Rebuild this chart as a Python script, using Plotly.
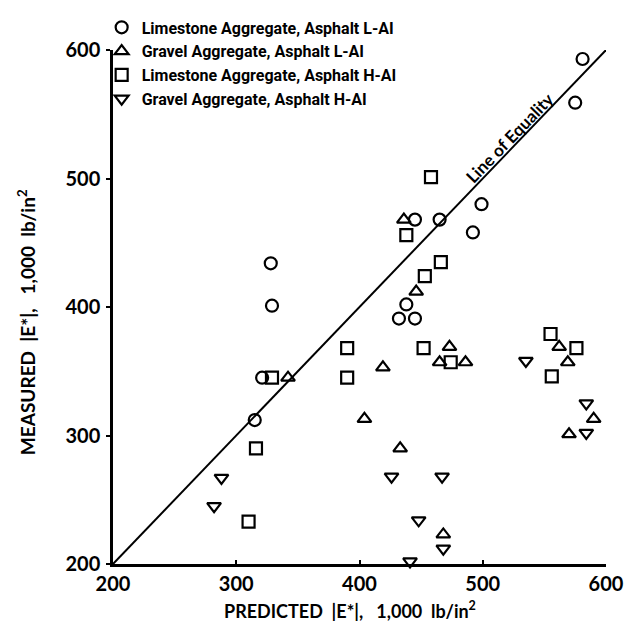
import plotly.graph_objects as go

# Predicted vs measured dynamic modulus |E*| (1,000 lb/in^2)
lime_lai_pred = [581, 575, 499, 492, 465, 445, 438, 432, 445, 315, 321, 329, 328]
lime_lai_meas = [593, 559, 480, 458, 468, 468, 402, 391, 391, 312, 345, 401, 434]

grav_lai_pred = [436, 446, 404, 433, 468, 419, 473, 465, 486, 562, 569, 590, 570, 342]
grav_lai_meas = [468, 412, 313, 290, 223, 353, 369, 357, 357, 369, 357, 313, 301, 345]

lime_hai_pred = [458, 438, 466, 453, 390, 390, 452, 474, 555, 576, 556, 316, 310, 329]
lime_hai_meas = [501, 456, 435, 424, 368, 345, 368, 357, 379, 368, 346, 290, 233, 345]

grav_hai_pred = [535, 584, 584, 426, 467, 448, 468, 441, 288, 282]
grav_hai_meas = [358, 325, 302, 268, 268, 234, 212, 202, 267, 245]

series_names = [
    "Limestone Aggregate, Asphalt L-AI",
    "Gravel Aggregate, Asphalt L-AI",
    "Limestone Aggregate, Asphalt H-AI",
    "Gravel Aggregate, Asphalt H-AI",
]
series_symbols = ["circle-open", "triangle-up-open", "square-open", "triangle-down-open"]

equality = [200, 605]
tick_vals = [200, 300, 400, 500, 600]

FONT = "Lato"
fig = go.Figure()

# line of equality, drawn first so the markers sit on top
fig.add_trace(go.Scatter(
    x=equality, y=equality, mode="lines",
    line=dict(color="black", width=2), showlegend=False,
    hoverinfo="skip", cliponaxis=False,
))

data = [
    (lime_lai_pred, lime_lai_meas),
    (grav_lai_pred, grav_lai_meas),
    (lime_hai_pred, lime_hai_meas),
    (grav_hai_pred, grav_hai_meas),
]
for (xs, ys), name, sym in zip(data, series_names, series_symbols):
    fig.add_trace(go.Scatter(
        x=xs, y=ys, mode="markers", name=name,
        marker=dict(symbol=sym, size=12, color="black",
                    line=dict(color="black", width=2.2)),
        cliponaxis=False,
    ))

axis_common = dict(
    range=[200, 600], tickvals=tick_vals,
    tickwidth=2, tickcolor="black", showline=True, linecolor="black",
    linewidth=2.5, showgrid=False, zeroline=False, mirror=False,
    tickfont=dict(family=FONT, size=20, color="black", weight="bold"),
)

fig.update_layout(
    width=641, height=621,
    margin=dict(l=113, r=35, t=50, b=57, autoexpand=False),
    paper_bgcolor="white", plot_bgcolor="white",
    xaxis=dict(**axis_common, ticks="inside", ticklen=4),
    yaxis=dict(**axis_common, ticks="outside", ticklen=4, ticklabelstandoff=2),
    showlegend=True,
    legend=dict(
        x=-0.023, y=1.077, xanchor="left", yanchor="top",
        bgcolor="rgba(0,0,0,0)", borderwidth=0, itemwidth=30,
        tracegroupgap=0,
        font=dict(family="Roboto", size=16, color="black", weight="bold"),
    ),
    annotations=[
        dict(text="PREDICTED  |E*|,   1,000  lb/in<sup>2</sup>", xref="paper", yref="paper",
             x=0.48, y=-0.09, xanchor="center", yanchor="middle", showarrow=False,
             font=dict(family=FONT, size=18, color="black", weight="bold")),
        dict(text="MEASURED  |E*|,   1,000  lb/in<sup>2</sup>", xref="paper", yref="paper",
             x=-0.175, y=0.47, xanchor="center", yanchor="middle", showarrow=False,
             textangle=-90,
             font=dict(family=FONT, size=19, color="black", weight="bold")),
        dict(text="Line of Equality", x=522, y=532, xref="x", yref="y",
             showarrow=False, textangle=-46,
             font=dict(family=FONT, size=17, color="black", weight="bold")),
    ],
)

fig.write_html("out.html")
